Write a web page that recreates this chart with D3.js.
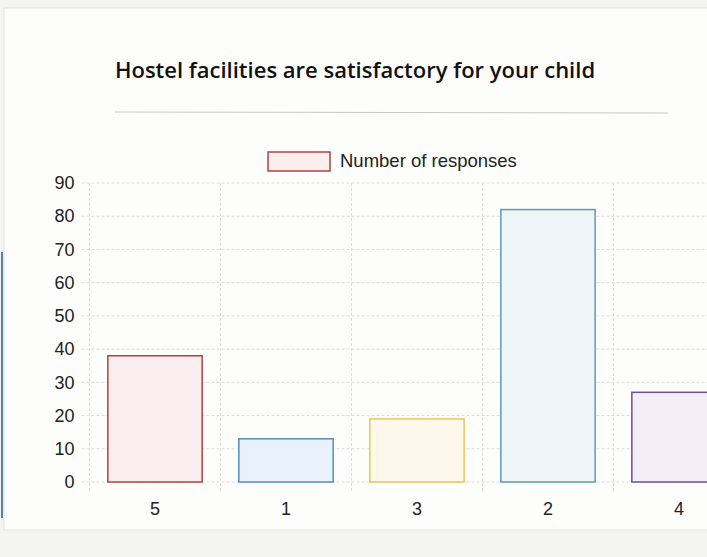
<!DOCTYPE html>
<html>
<head>
<meta charset="utf-8">
<script src="https://cdn.jsdelivr.net/npm/d3@7"></script>
<style>
  body { margin: 0; background: #f4f4f2; }
  svg { display: block; }
</style>
</head>
<body>
<div id="chart"></div>
<script>
// data
var categories = ['5', '1', '3', '2', '4'];
var responses  = [38, 13, 19, 82, 27];
var yTicks     = [0, 10, 20, 30, 40, 50, 60, 70, 80, 90];
var title      = 'Hostel facilities are satisfactory for your child';
var seriesName = 'Number of responses';

var strokes = ['#b4403f', '#4f8fc2', '#e6c65c', '#5b9cae', '#6e4f9e'];
var fills   = ['#fbeeee', '#e9f2fa', '#fdf8e9', '#eef5f7', '#f3eef8'];

(function() {
  var width = 707, height = 557;
  var plotLeft = 89.5, plotTop = 183, plotBottom = 482;
  var band = 131;

  var svg = d3.select('#chart').append('svg')
      .attr('width', width)
      .attr('height', height);

  // paper card
  svg.append('rect')
      .attr('x', 4).attr('y', 8)
      .attr('width', width + 10).attr('height', 522)
      .attr('fill', '#fdfdfc')
      .attr('stroke', '#e2e2e0');

  // stray edge of the next chart on the page
  svg.append('line')
      .attr('x1', 2).attr('x2', 2)
      .attr('y1', 252).attr('y2', 518)
      .attr('stroke', '#4f86b0').attr('stroke-width', 2);

  svg.append('text')
      .attr('x', 355).attr('y', 78)
      .attr('text-anchor', 'middle')
      .attr('font-family', 'Open Sans, DejaVu Sans, sans-serif')
      .attr('font-size', 22)
      .attr('font-weight', 600)
      .attr('fill', '#111')
      .text(title);

  svg.append('line')
      .attr('x1', 115).attr('x2', 668)
      .attr('y1', 112).attr('y2', 113)
      .attr('stroke', '#c8c8c8');

  // legend
  var legend = svg.append('g').attr('transform', 'translate(268,152)');
  legend.append('rect')
      .attr('width', 62).attr('height', 19)
      .attr('fill', fills[0]).attr('stroke', strokes[0]).attr('stroke-width', 1.5);
  legend.append('text')
      .attr('x', 72).attr('y', 15)
      .attr('font-family', 'Liberation Sans, Arial, sans-serif')
      .attr('font-size', 18.5)
      .attr('fill', '#222')
      .text(seriesName);

  var x = d3.scaleBand()
      .domain(categories)
      .range([plotLeft, plotLeft + band * categories.length])
      .paddingInner(0.28)
      .paddingOuter(0.14);

  var y = d3.scaleLinear()
      .domain([0, 90])
      .range([plotBottom, plotTop]);

  var grid = svg.append('g').attr('stroke', '#dcdcdc').attr('stroke-dasharray', '3,2');

  grid.selectAll('line.h')
    .data(yTicks)
    .enter().append('line')
      .attr('class', 'h')
      .attr('x1', plotLeft - 8).attr('x2', width)
      .attr('y1', function(d) { return y(d); })
      .attr('y2', function(d) { return y(d); });

  grid.selectAll('line.v')
    .data(d3.range(categories.length + 1))
    .enter().append('line')
      .attr('class', 'v')
      .attr('x1', function(i) { return plotLeft + band * i; })
      .attr('x2', function(i) { return plotLeft + band * i; })
      .attr('y1', plotTop).attr('y2', plotBottom + 9);

  // axes (labels only, lines are the grid above)
  var yAxis = svg.append('g')
      .attr('transform', 'translate(' + (plotLeft - 5) + ',0)')
      .call(d3.axisLeft(y).tickValues(yTicks).tickSize(0).tickPadding(10));
  yAxis.select('.domain').remove();
  yAxis.selectAll('text')
      .attr('font-family', 'Liberation Sans, Arial, sans-serif')
      .attr('font-size', 18)
      .attr('fill', '#222');

  var xAxis = svg.append('g')
      .attr('transform', 'translate(0,' + plotBottom + ')')
      .call(d3.axisBottom(x).tickSize(0).tickPadding(20));
  xAxis.select('.domain').remove();
  xAxis.selectAll('text')
      .attr('font-family', 'Liberation Sans, Arial, sans-serif')
      .attr('font-size', 18)
      .attr('fill', '#222');

  svg.selectAll('rect.bar')
    .data(responses)
    .enter().append('rect')
      .attr('class', 'bar')
      .attr('x', function(d, i) { return x(categories[i]); })
      .attr('y', function(d) { return y(d); })
      .attr('width', x.bandwidth())
      .attr('height', function(d) { return plotBottom - y(d); })
      .attr('fill', function(d, i) { return fills[i]; })
      .attr('stroke', function(d, i) { return strokes[i]; })
      .attr('stroke-width', 1.5);
})();
</script>
</body>
</html>
